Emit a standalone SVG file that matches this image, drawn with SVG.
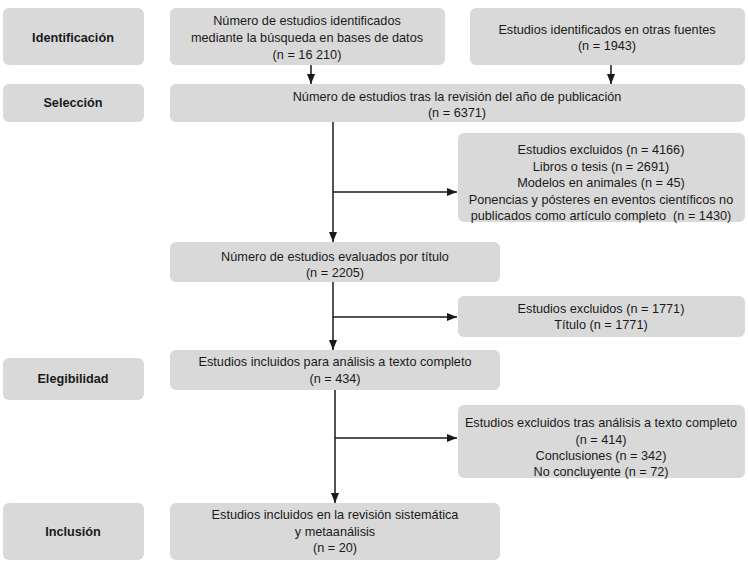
<svg xmlns="http://www.w3.org/2000/svg" width="748" height="570" viewBox="0 0 748 570">
<defs>
<marker id="ah" viewBox="0 0 10 10" refX="10" refY="5" markerWidth="10" markerHeight="10" markerUnits="userSpaceOnUse" orient="auto">
<path d="M0,1 L10,5 L0,9 Z" fill="#1a1a1a"/>
</marker>
</defs>
<style>
.box{fill:#d9d9d9;}
text{font-family:"Liberation Sans",Arial,sans-serif;font-size:12.7px;fill:#1a1a1a;text-anchor:middle;}
.lbl{font-weight:bold;font-size:12.7px;}
.ln{stroke:#1a1a1a;stroke-width:1.5;fill:none;}
</style>
<rect width="748" height="570" fill="#fff"/>
<g id="stage-identificacion"><rect class="box" x="3" y="8" width="141" height="57" rx="6"/><text class="lbl" x="73" y="42">Identificación</text></g>
<g id="stage-seleccion"><rect class="box" x="3" y="84" width="141" height="38" rx="6"/><text class="lbl" x="73" y="107">Selección</text></g>
<g id="stage-elegibilidad"><rect class="box" x="3" y="358" width="141" height="42" rx="6"/><text class="lbl" x="73" y="383">Elegibilidad</text></g>
<g id="stage-inclusion"><rect class="box" x="3" y="503" width="141" height="57" rx="6"/><text class="lbl" x="73" y="536">Inclusión</text></g>

<g id="n-db"><rect class="box" x="170" y="8" width="275" height="57" rx="6"/>
<text x="307" y="25">Número de estudios identificados</text><text x="307" y="42">mediante la búsqueda en bases de datos</text><text x="307" y="59">(n = 16 210)</text></g>
<g id="n-otras"><rect class="box" x="470" y="8" width="275" height="57" rx="6"/>
<text x="607" y="34">Estudios identificados en otras fuentes</text><text x="607" y="50">(n = 1943)</text></g>
<g id="n-anio"><rect class="box" x="170" y="84" width="575" height="38" rx="6"/>
<text x="457" y="101">Número de estudios tras la revisión del año de publicación</text><text x="457" y="117">(n = 6371)</text></g>
<g id="n-excl1"><rect class="box" x="458" y="133" width="287" height="89" rx="6"/>
<text x="601" y="154">Estudios excluidos (n = 4166)</text><text x="601" y="171">Libros o tesis (n = 2691)</text><text x="601" y="187">Modelos en animales (n = 45)</text><text x="601" y="204">Ponencias y pósteres en eventos científicos no</text><text x="601" y="220" xml:space="preserve" style="white-space:pre">publicados como artículo completo  (n = 1430)</text></g>
<g id="n-titulo"><rect class="box" x="170" y="242" width="330" height="40" rx="6"/>
<text x="335" y="261">Número de estudios evaluados por título</text><text x="335" y="277">(n = 2205)</text></g>
<g id="n-excl2"><rect class="box" x="458" y="296" width="287" height="41" rx="6"/>
<text x="601" y="313">Estudios excluidos (n = 1771)</text><text x="601" y="329">Título (n = 1771)</text></g>
<g id="n-texto"><rect class="box" x="170" y="350" width="330" height="40" rx="6"/>
<text x="335" y="366">Estudios incluidos para análisis a texto completo</text><text x="335" y="383">(n = 434)</text></g>
<g id="n-excl3"><rect class="box" x="458" y="405" width="287" height="73" rx="6"/>
<text x="601" y="427">Estudios excluidos tras análisis a texto completo</text><text x="601" y="444">(n = 414)</text><text x="601" y="460">Conclusiones (n = 342)</text><text x="601" y="476">No concluyente (n = 72)</text></g>
<g id="n-final"><rect class="box" x="170" y="503" width="330" height="57" rx="6"/>
<text x="335" y="519">Estudios incluidos en la revisión sistemática</text><text x="335" y="536">y metaanálisis</text><text x="335" y="552">(n = 20)</text></g>

<g id="connectors">
<line class="ln" x1="311" y1="65" x2="311" y2="84" marker-end="url(#ah)"/>
<line class="ln" x1="611" y1="65" x2="611" y2="84" marker-end="url(#ah)"/>
<line class="ln" x1="333" y1="122" x2="333" y2="242" marker-end="url(#ah)"/>
<line class="ln" x1="333" y1="192" x2="457" y2="192" marker-end="url(#ah)"/>
<line class="ln" x1="333" y1="282" x2="333" y2="350" marker-end="url(#ah)"/>
<line class="ln" x1="333" y1="317" x2="457" y2="317" marker-end="url(#ah)"/>
<line class="ln" x1="335" y1="390" x2="335" y2="503" marker-end="url(#ah)"/>
<line class="ln" x1="335" y1="438" x2="457" y2="438" marker-end="url(#ah)"/>
</g>
</svg>
